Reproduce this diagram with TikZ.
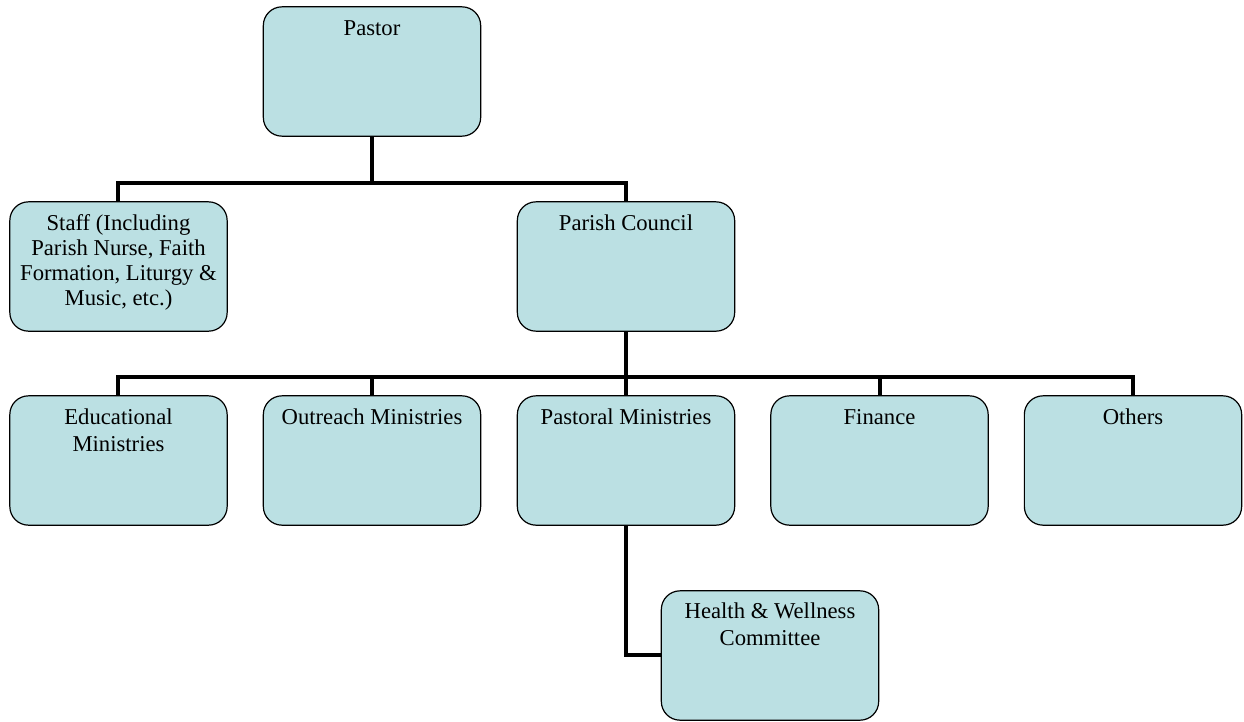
\documentclass[tikz,border=0pt]{standalone}
\usepackage{fontspec}
\setmainfont{Liberation Serif}
\definecolor{boxfill}{RGB}{187,224,227}
\newcommand{\topstrut}{\rule{0pt}{15pt}}
\begin{document}
\begin{tikzpicture}[x=0.75pt,y=-0.75pt,
  box/.style={draw=black,line width=0.9pt,fill=boxfill,rounded corners=14pt,minimum width=163pt,minimum height=97pt,inner sep=0pt},
  lbl/.style={anchor=north,align=center,inner sep=0pt,font=\fontsize{17}{20}\selectfont},
  conn/.style={line width=3pt}]
\useasboundingbox (0,0) rectangle (1244,721);
% connectors
\draw[conn] (372,136) -- (372,183) coordinate (j1);
\draw[conn] (118,202) |- (j1) -| (626,202);
\draw[conn] (626,331) -- (626,377) coordinate (j2);
\draw[conn] (118,396) |- (j2) -| (1133,396);
\draw[conn] (372,396) -- (372,377);
\draw[conn] (880,396) -- (880,377);
\draw[conn] (626,396) -- (626,377);
\draw[conn] (626,525) |- (661,655);
% boxes
\node[box] (pastor) at (372,71.5) {};
\node[box] (staff) at (118.5,266.5) {};
\node[box] (council) at (626,266.5) {};
\node[box] (edu) at (118.5,460.5) {};
\node[box] (out) at (372,460.5) {};
\node[box] (past) at (626,460.5) {};
\node[box] (fin) at (879.5,460.5) {};
\node[box] (oth) at (1133,460.5) {};
\node[box] (health) at (770,655.5) {};
% labels
\node[lbl] (tPastor) at ([yshift=-6.75pt]pastor.north) {\topstrut Pastor};
\node[lbl,font=\fontsize{17}{18.7}\selectfont] (tStaff) at ([yshift=-6.75pt]staff.north) {\topstrut Staff (Including\\Parish Nurse, Faith\\Formation, Liturgy \&\\Music, etc.)};
\node[lbl] (tCouncil) at ([yshift=-6.75pt]council.north) {\topstrut Parish Council};
\node[lbl] (tEdu) at ([yshift=-6.75pt]edu.north) {\topstrut Educational\\Ministries};
\node[lbl] (tOut) at ([yshift=-6.75pt]out.north) {\topstrut Outreach Ministries};
\node[lbl] (tPast) at ([yshift=-6.75pt]past.north) {\topstrut Pastoral Ministries};
\node[lbl] (tFin) at ([yshift=-6.75pt]fin.north) {\topstrut Finance};
\node[lbl] (tOth) at ([yshift=-6.75pt]oth.north) {\topstrut Others};
\node[lbl] (tHealth) at ([yshift=-6pt]health.north) {\topstrut Health \& Wellness\\Committee};
\end{tikzpicture}
\end{document}
